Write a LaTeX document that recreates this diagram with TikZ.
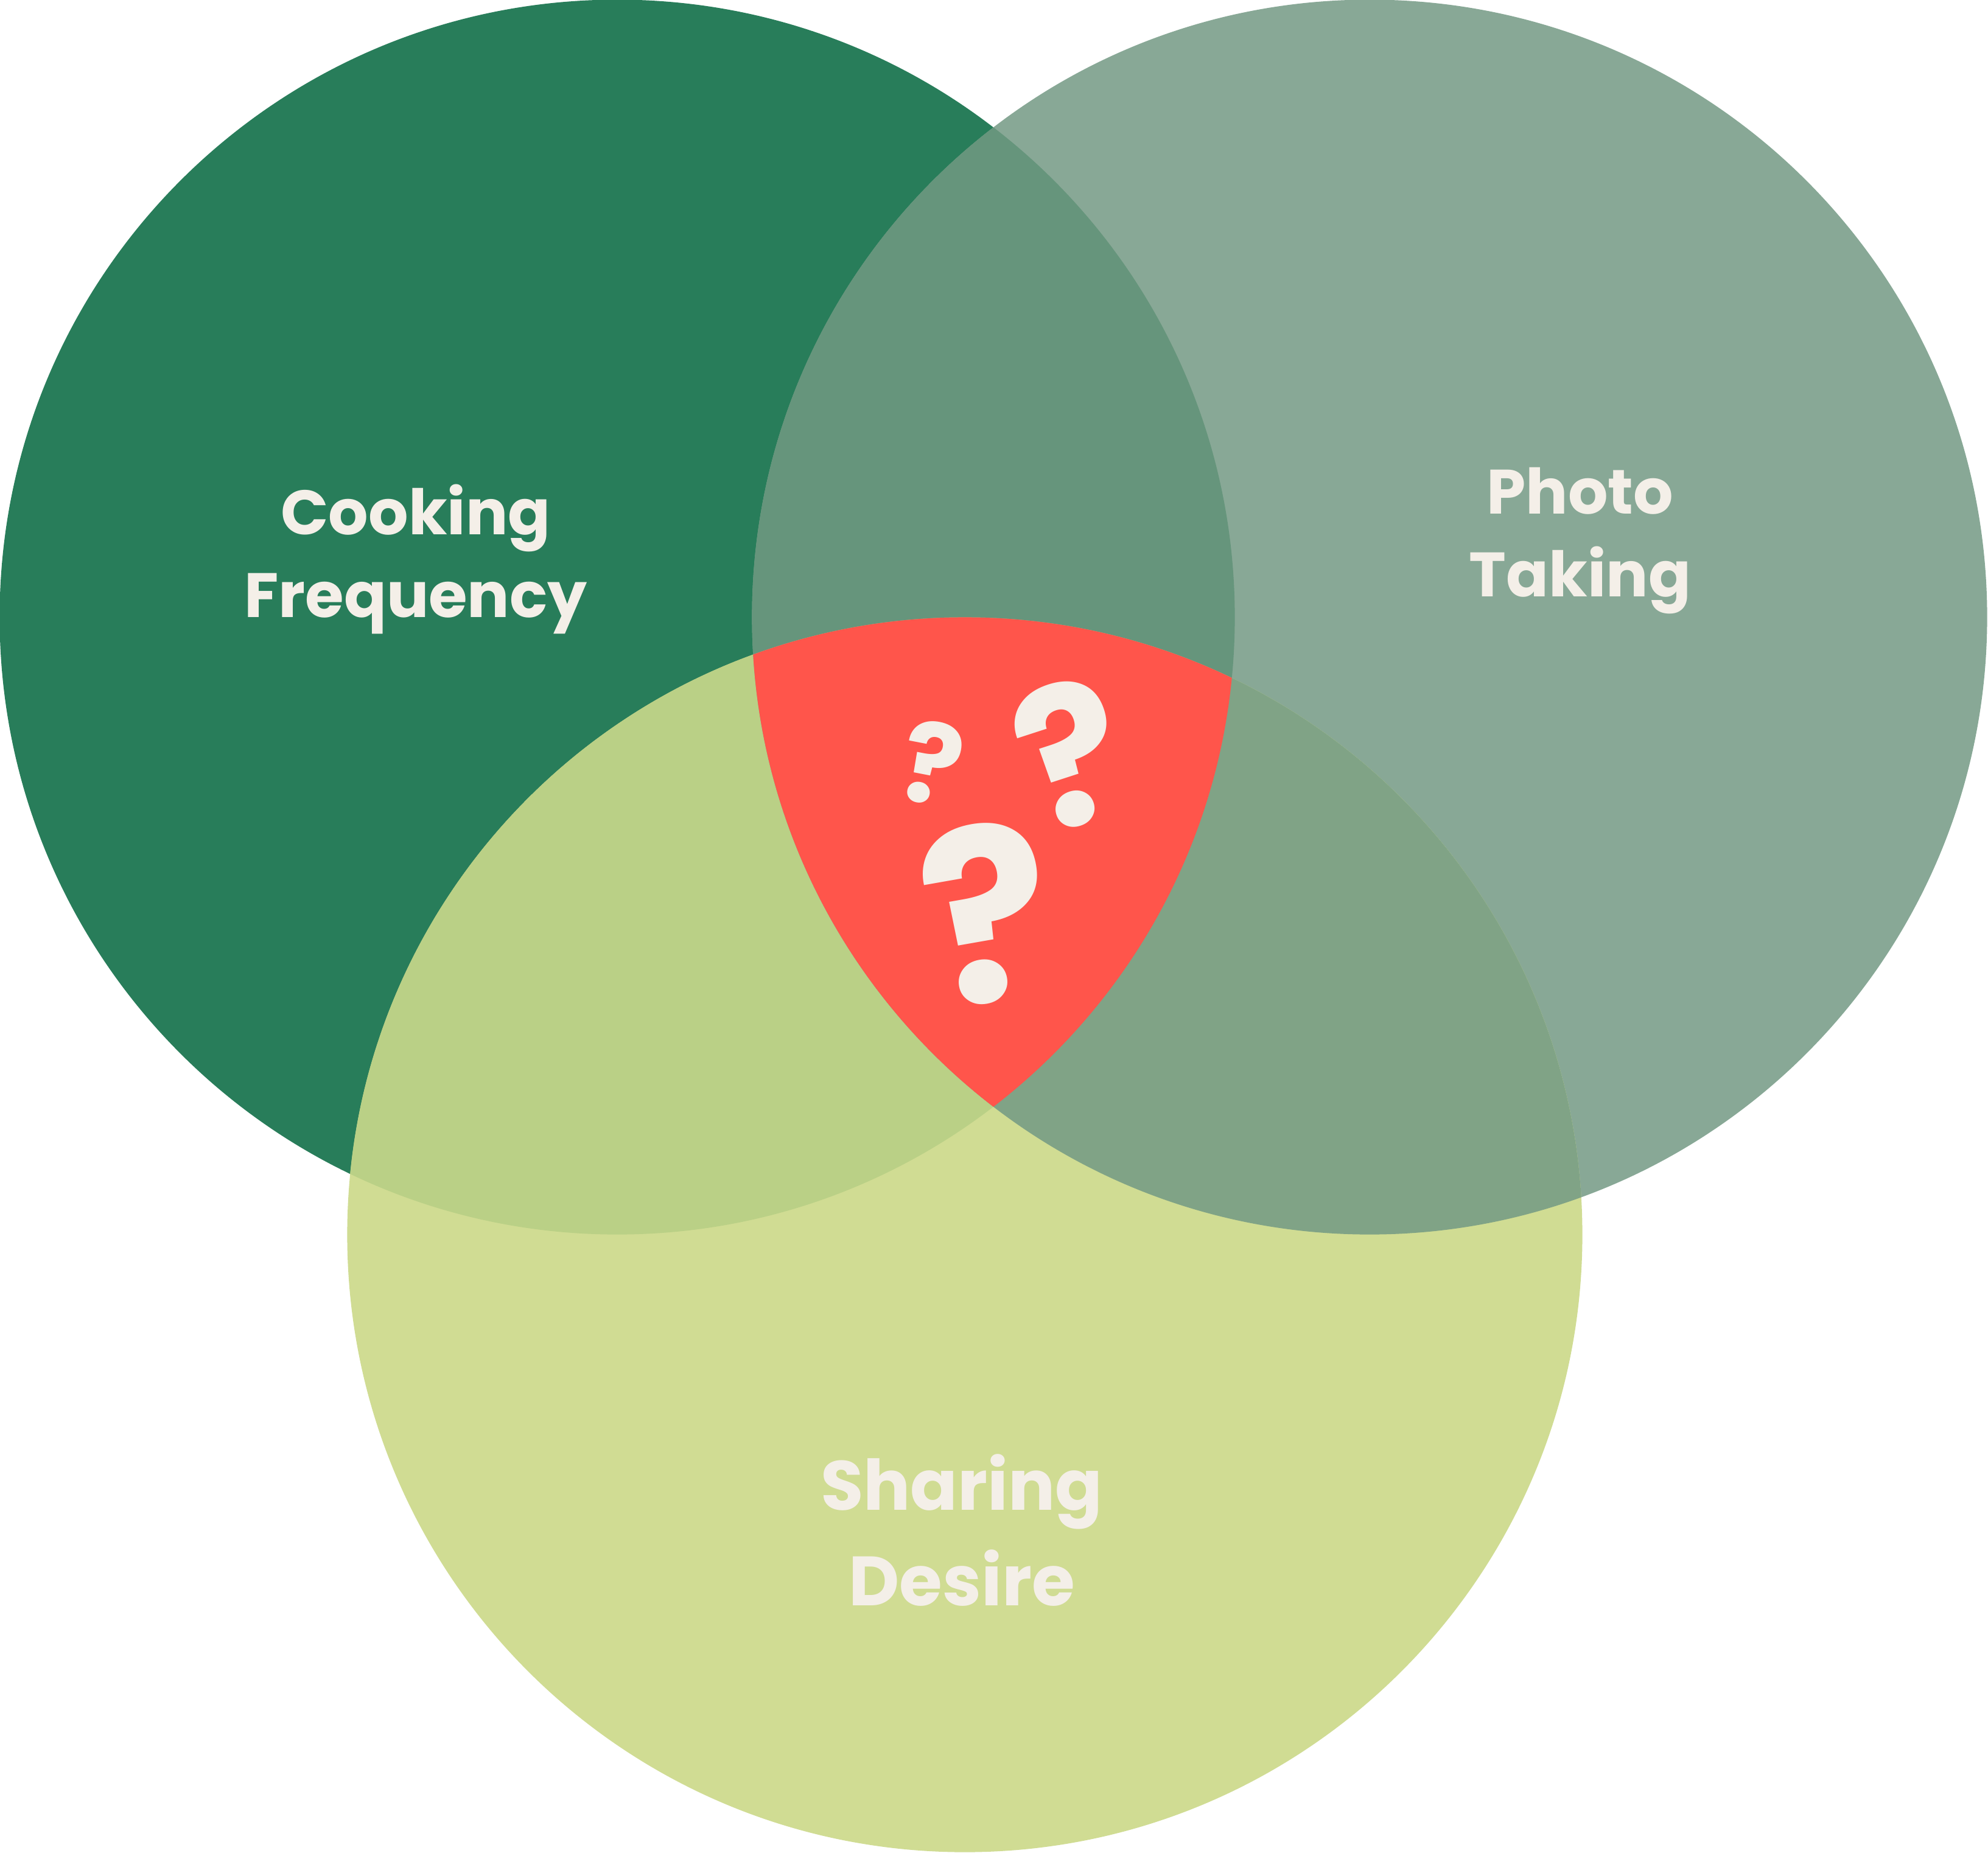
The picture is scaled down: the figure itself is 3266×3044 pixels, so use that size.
\documentclass[tikz,border=0pt]{standalone}
\usepackage{fontspec}
\setmainfont{Poppins}
\usepackage{tikz}
\usetikzlibrary{positioning}
\definecolor{cookgreen}{HTML}{287D5A}
\definecolor{photogreen}{HTML}{88A896}
\definecolor{sharegreen}{HTML}{D0DC93}
\definecolor{cookphoto}{HTML}{66957C}
\definecolor{cookshare}{HTML}{BAD086}
\definecolor{photoshare}{HTML}{80A386}
\definecolor{allthree}{HTML}{FF554B}
\definecolor{cream}{HTML}{F4EFE8}
\newcommand{\cookset}{(1014,1014) circle[radius=10.14cm]}
\newcommand{\photoset}{(2250,1014) circle[radius=10.14cm]}
\newcommand{\shareset}{(1585,2029) circle[radius=10.14cm]}
\tikzset{
  lbl/.style={text=cream, align=center, inner sep=0pt, anchor=base},
  smalllbl/.style={lbl, font=\bfseries\fontsize{29.3}{38.4}\selectfont},
  biglbl/.style={lbl, font=\bfseries\fontsize{32.6}{44.4}\selectfont},
  qmark/.style={text=cream, inner sep=0pt, font=\bfseries\fontsize{#1}{#1}\selectfont},
}

\begin{document}
\begin{tikzpicture}[x=0.01cm, y=-0.01cm]
\useasboundingbox (0,0) rectangle (3266,3044);
% the three sets
\fill[cookgreen] \cookset;
\fill[photogreen] \photoset;
\fill[sharegreen] \shareset;
% pairwise overlaps
\begin{scope}
  \clip \cookset;
  \fill[cookphoto] \photoset;
\end{scope}
\begin{scope}
  \clip \cookset;
  \fill[cookshare] \shareset;
\end{scope}
\begin{scope}
  \clip \photoset;
  \fill[photoshare] \shareset;
\end{scope}
% all three
\begin{scope}
  \clip \cookset;
  \clip \photoset;
  \fill[allthree] \shareset;
\end{scope}
% labels (anchored on the baseline of the last line)
\node[smalllbl] (cooking) at (683,1014) {Cooking\\Frequency};
\node[smalllbl] (photo) at (2596,980) {Photo\\Taking};
\node[biglbl] (sharing) at (1580,2638) {Sharing\\Desire};
% question marks
\node[qmark=52, rotate=-11] (smallq) at (1532,1254) {?};
\node[qmark=90, rotate=18] (midq) at (1760,1238) {?};
\node[qmark=112, rotate=10] (bigq) at (1623,1500) {?};
\end{tikzpicture}
\end{document}
